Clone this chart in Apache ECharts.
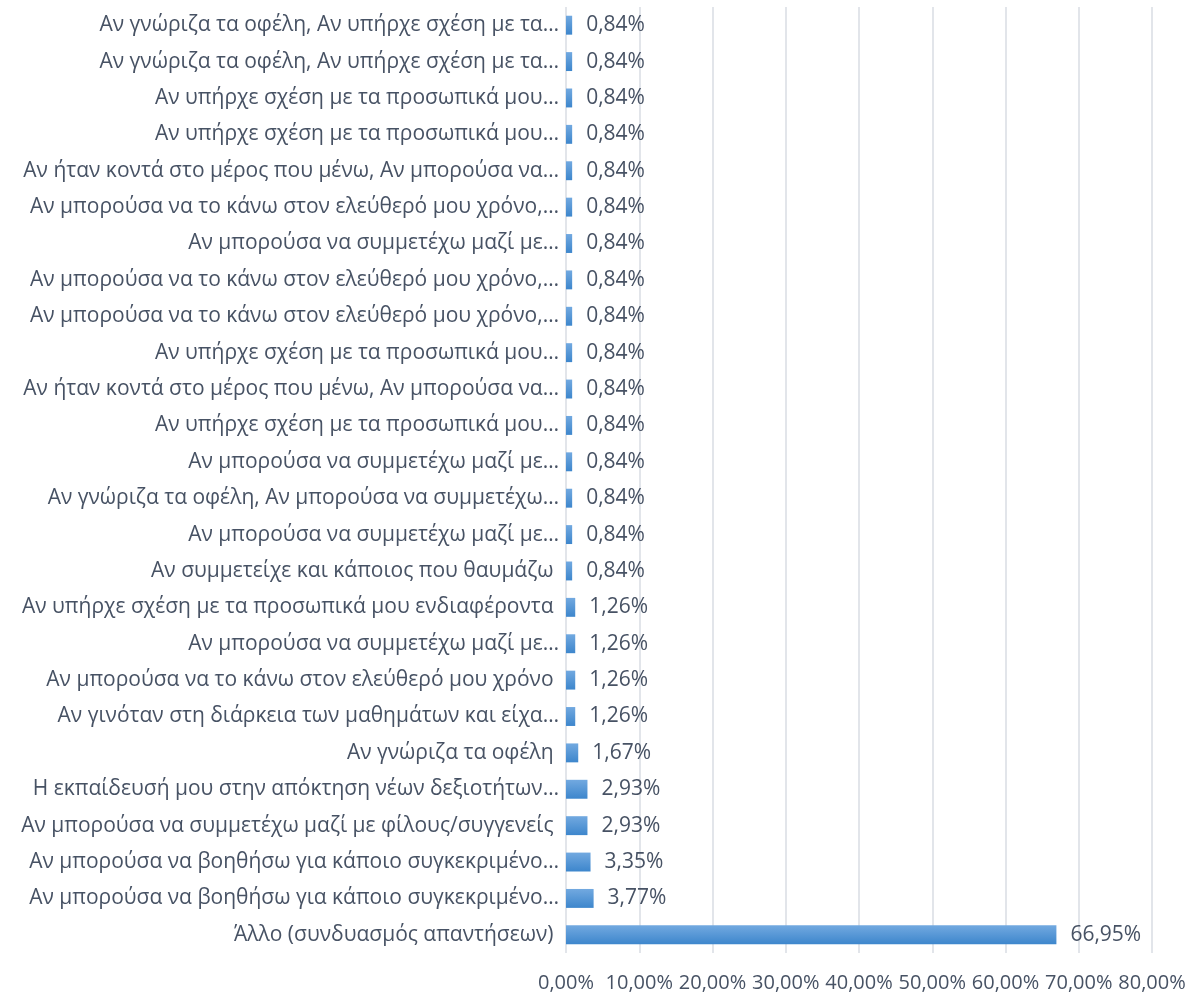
<!DOCTYPE html>
<html>
<head>
<meta charset="utf-8">
<script src="https://cdn.jsdelivr.net/npm/echarts@6/dist/echarts.min.js"></script>
<style>
  html, body { margin: 0; padding: 0; background: #fff; }
  #chart { width: 1197px; height: 994px; }
</style>
</head>
<body>
<div id="chart"></div>
<script>
// Horizontal bar chart of answers, top-to-bottom order as in the source.
var categories = [
  "Αν γνώριζα τα οφέλη, Αν υπήρχε σχέση με τα…",
  "Αν γνώριζα τα οφέλη, Αν υπήρχε σχέση με τα…",
  "Αν υπήρχε σχέση με τα προσωπικά μου…",
  "Αν υπήρχε σχέση με τα προσωπικά μου…",
  "Αν ήταν κοντά στο μέρος που μένω, Αν μπορούσα να…",
  "Αν μπορούσα να το κάνω στον ελεύθερό μου χρόνο,…",
  "Αν μπορούσα να συμμετέχω μαζί με…",
  "Αν μπορούσα να το κάνω στον ελεύθερό μου χρόνο,…",
  "Αν μπορούσα να το κάνω στον ελεύθερό μου χρόνο,…",
  "Αν υπήρχε σχέση με τα προσωπικά μου…",
  "Αν ήταν κοντά στο μέρος που μένω, Αν μπορούσα να…",
  "Αν υπήρχε σχέση με τα προσωπικά μου…",
  "Αν μπορούσα να συμμετέχω μαζί με…",
  "Αν γνώριζα τα οφέλη, Αν μπορούσα να συμμετέχω…",
  "Αν μπορούσα να συμμετέχω μαζί με…",
  "Αν συμμετείχε και κάποιος που θαυμάζω ",
  "Αν υπήρχε σχέση με τα προσωπικά μου ενδιαφέροντα ",
  "Αν μπορούσα να συμμετέχω μαζί με…",
  "Αν μπορούσα να το κάνω στον ελεύθερό μου χρόνο ",
  "Αν γινόταν στη διάρκεια των μαθημάτων και είχα…",
  "Αν γνώριζα τα οφέλη ",
  "Η εκπαίδευσή μου στην απόκτηση νέων δεξιοτήτων…",
  "Αν μπορούσα να συμμετέχω μαζί με φίλους/συγγενείς ",
  "Αν μπορούσα να βοηθήσω για κάποιο συγκεκριμένο…",
  "Αν μπορούσα να βοηθήσω για κάποιο συγκεκριμένο…",
  "Άλλο (συνδυασμός απαντήσεων) "
];
var values = [
  0.84, 0.84, 0.84, 0.84, 0.84, 0.84, 0.84, 0.84, 0.84, 0.84,
  0.84, 0.84, 0.84, 0.84, 0.84, 0.84, 1.26, 1.26, 1.26, 1.26,
  1.67, 2.93, 2.93, 3.35, 3.77, 66.95
];
var axisMax = 80;
var axisStep = 10;

function pct(v) {
  return v.toFixed(2).replace(".", ",") + "%";
}

var textColor = "#475264";
var font = "Open Sans";
var chart = echarts.init(document.getElementById("chart"), null, { renderer: "canvas" });
chart.setOption({
  backgroundColor: "#ffffff",
  animation: false,
  grid: { left: 566, right: 45, top: 7, bottom: 41, containLabel: false },
  xAxis: {
    type: "value",
    min: 0,
    max: axisMax,
    interval: axisStep,
    axisLine: { show: false },
    axisTick: { show: false },
    splitLine: { show: true, lineStyle: { color: "#d9dde3", width: 1.5 } },
    axisLabel: {
      color: textColor,
      fontFamily: font,
      fontSize: 20,
      margin: 20,
      hideOverlap: false,
      showMinLabel: true,
      showMaxLabel: true,
      formatter: function (v) { return pct(v); }
    }
  },
  yAxis: {
    type: "category",
    data: categories,
    inverse: true,
    axisLine: { show: false },
    axisTick: { show: false },
    axisLabel: {
      interval: 0,
      color: textColor,
      fontFamily: font,
      fontSize: 21,
      margin: 7
    }
  },
  series: [{
    type: "bar",
    data: values,
    barWidth: "52%",
    itemStyle: {
      color: new echarts.graphic.LinearGradient(0, 0, 0, 1, [
        { offset: 0, color: "#72a9e0" },
        { offset: 1, color: "#3d86cc" }
      ])
    },
    label: {
      show: true,
      position: "right",
      distance: 14,
      color: textColor,
      fontFamily: font,
      fontSize: 21,
      formatter: function (p) { return pct(p.value); }
    }
  }]
});
</script>
</body>
</html>
